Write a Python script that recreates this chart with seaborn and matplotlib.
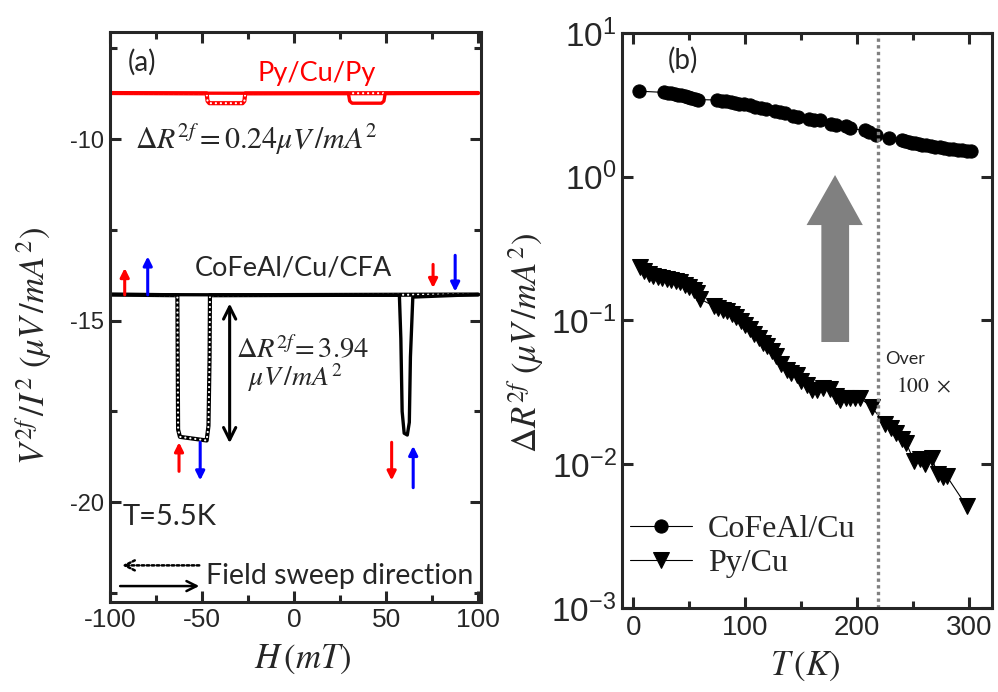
import numpy as np
import pandas as pd
import matplotlib
matplotlib.use("Agg")
import matplotlib.pyplot as plt
from matplotlib.patches import Polygon
from matplotlib.ticker import MultipleLocator, FixedLocator, NullLocator, FixedFormatter
import seaborn as sns

sns.set_style("ticks")
plt.rcParams['font.family'] = ['Liberation Sans', 'DejaVu Sans']
plt.rcParams['axes.unicode_minus'] = False
plt.rcParams['mathtext.fontset'] = 'stix'
plt.rcParams['mathtext.rm'] = 'Liberation Sans'
plt.rcParams['mathtext.it'] = 'Liberation Sans:italic'
plt.rcParams['mathtext.bf'] = 'Liberation Sans:bold'
plt.rcParams['mathtext.sf'] = 'Liberation Sans'

# ---------------- data: panel (a) ----------------
# Py/Cu/Py, sweep -100 -> 100 (solid) and 100 -> -100 (dotted)
py_fwd_H = [-100, 29.5, 30.2, 31.5, 47.5, 48.8, 49.5, 100]
py_fwd_V = [-8.73, -8.74, -8.95, -9.01, -9.01, -8.95, -8.74, -8.73]
py_bwd_H = [100, -26.5, -27.0, -28.0, -46.0, -47.0, -47.5, -100]
py_bwd_V = [-8.73, -8.74, -8.95, -9.01, -9.01, -8.95, -8.74, -8.73]
# CoFeAl/Cu/CFA
cfa_fwd_H = [-100, 57.2, 58.0, 58.7, 59.8, 61.5, 62.6, 63.2, 64.5, 100]
cfa_fwd_V = [-14.28, -14.3, -15.5, -17.5, -18.1, -18.15, -17.8, -16.0, -14.35, -14.28]
cfa_bwd_H = [100, -45.7, -45.9, -46.5, -47.5, -62.0, -63.0, -63.4, -100]
cfa_bwd_V = [-14.28, -14.3, -16.0, -17.9, -18.3, -18.2, -18.0, -14.3, -14.28]

# ---------------- data: panel (b) ----------------
cofeal_T = [5, 28, 31, 34, 37, 40, 43, 46, 49, 52, 55, 58,
            75, 79, 83, 87, 91, 95, 99, 104, 109, 114, 119,
            127, 131, 136, 143, 147, 157, 162, 167, 177, 181, 190, 194,
            207, 211, 217, 229,
            240, 243, 246, 249, 252, 255, 258, 262, 266, 270, 274, 278,
            282, 286, 290, 294, 298, 302]
cofeal_R = [3.94, 3.86, 3.83, 3.80, 3.76, 3.72, 3.68, 3.63, 3.58, 3.53, 3.48, 3.44,
            3.42, 3.38, 3.34, 3.30, 3.27, 3.23, 3.19, 3.14, 3.08, 3.02, 2.96,
            2.86, 2.81, 2.76, 2.64, 2.60, 2.52, 2.50, 2.50, 2.33, 2.29, 2.24, 2.17,
            2.10, 2.06, 1.95, 1.85,
            1.79, 1.77, 1.75, 1.73, 1.71, 1.69, 1.67, 1.65, 1.63, 1.62, 1.60, 1.58,
            1.57, 1.56, 1.54, 1.53, 1.52, 1.50]
py_T = [6, 10, 14, 18, 22, 26, 30, 34, 38, 42, 46, 50, 54, 57, 60,
        72, 76, 80, 84, 88, 92, 96, 100, 104, 108, 112, 116, 120, 124, 128,
        132, 137, 141, 146, 150, 155, 160, 164, 170, 176, 181, 185, 190, 194,
        198, 203, 213, 225, 230, 235, 240, 244, 251, 256, 261, 267, 272, 277,
        280, 298]
py_R = [0.234, 0.222, 0.210, 0.205, 0.202, 0.198, 0.194, 0.192, 0.189, 0.184,
        0.178, 0.170, 0.162, 0.155, 0.141,
        0.126, 0.122, 0.119, 0.116, 0.111, 0.106, 0.099, 0.093, 0.087, 0.081,
        0.076, 0.070, 0.066, 0.061, 0.057,
        0.050, 0.045, 0.043, 0.0415, 0.038, 0.0355, 0.033, 0.0327, 0.034, 0.0336,
        0.030, 0.0279, 0.029, 0.0288, 0.0290, 0.0288, 0.025, 0.0192, 0.0178,
        0.0164, 0.015, 0.014, 0.0105, 0.0108, 0.0100, 0.011, 0.0085, 0.0082,
        0.0083, 0.0051]
ytick_a_vals = [-10, -15, -20]
xtick_a_vals = [-100, -50, 0, 50, 100]
ytick_b_vals = [1e-3, 1e-2, 1e-1, 1e0, 1e1]
ytick_b_labels = [r'$10^{-3}$', r'$10^{-2}$', r'$10^{-1}$', r'$10^{0}$', r'$10^{1}$']

fig = plt.figure(figsize=(9.98, 6.92), dpi=100)
axa = fig.add_axes([0.1102, 0.130, 0.3717, 0.8237])
axb = fig.add_axes([0.6232, 0.1214, 0.3707, 0.8309])

SP = 2.2
for ax in (axa, axb):
    for s in ax.spines.values():
        s.set_linewidth(SP)
        s.set_visible(True)
    ax.tick_params(which='both', direction='in', top=True, right=True,
                   width=SP, pad=4)
    ax.tick_params(which='major', length=8)
    ax.tick_params(which='minor', length=5)
axa.tick_params(axis='y', labelsize=17)
axa.tick_params(axis='x', labelsize=19)
axb.tick_params(axis='x', labelsize=20, pad=5)

# ---------------- panel (a) ----------------
def dotted(ax, H, V, col):
    sns.lineplot(x=H, y=V, sort=False, estimator=None, ax=ax, color=col, lw=3.0)
    ax.plot(H, V, color='white', lw=1.6, linestyle=(0, (0.05, 2.2)),
            dash_capstyle='round')

dotted(axa, py_bwd_H, py_bwd_V, 'red')
sns.lineplot(x=py_fwd_H, y=py_fwd_V, sort=False, estimator=None, ax=axa, color='red', lw=2.4)
dotted(axa, cfa_bwd_H, cfa_bwd_V, 'black')
sns.lineplot(x=cfa_fwd_H, y=cfa_fwd_V, sort=False, estimator=None, ax=axa, color='black', lw=2.4)

axa.set_xlim(-100, 101.5)
axa.set_ylim(-22.75, -7.05)
axa.xaxis.set_major_locator(FixedLocator(xtick_a_vals))
axa.xaxis.set_minor_locator(MultipleLocator(25))
axa.yaxis.set_major_locator(FixedLocator(ytick_a_vals))
axa.yaxis.set_minor_locator(FixedLocator([-7.5, -12.5, -17.5, -22.5]))
axa.set_xlabel(r'$H\,(mT)$', fontsize=25)
axa.set_ylabel(r'$V^{2f}\,/I^{2}\ (\mu V\,/mA^{2})$', fontsize=25)
axa.xaxis.set_label_coords(0.52, -0.072)
axa.yaxis.set_label_coords(-0.152, 0.45)

sans = ['Lato', 'DejaVu Sans']
axa.text(-90.5, -7.88, '(a)', fontsize=20, family=sans, va='center', ha='left')
axa.text(12.5, -8.18, 'Py/Cu/Py', fontsize=19.5, family=sans, color='red', va='center', ha='center')
axa.text(-86.5, -10.03, r'$\Delta R^{2f} = 0.24\mu V\,/mA^{2}$', fontsize=21.5, va='center', ha='left')
axa.text(-0.5, -13.55, 'CoFeAl/Cu/CFA', fontsize=19.5, family=sans, va='center', ha='center')
axa.text(-31.5, -15.8, r'$\Delta R^{2f}\!= 3.94$', fontsize=20.5, va='center', ha='left')
axa.text(0.5, -16.56, r'$\mu V\,/mA^{2}$', fontsize=20, va='center', ha='center')
axa.text(-93, -20.41, 'T=5.5K', fontsize=21, family=sans, va='center', ha='left')
axa.text(-48, -22.02, 'Field sweep direction', fontsize=20.5, family=sans, va='center', ha='left')

# double arrow
axa.annotate('', xy=(-35, -18.45), xytext=(-35, -14.45),
             arrowprops=dict(arrowstyle='<->', lw=2.2, color='black', mutation_scale=22))
# field sweep arrows
axa.annotate('', xy=(-95, -21.74), xytext=(-50, -21.74),
             arrowprops=dict(arrowstyle='->', lw=1.8, ls=(0, (1, 1)), color='black', mutation_scale=18))
axa.annotate('', xy=(-50, -22.31), xytext=(-96, -22.31),
             arrowprops=dict(arrowstyle='->', lw=1.8, color='black', mutation_scale=18))

# magnetization arrows (H, y_from, y_to, colour)
mag_arrows = [(-92, -14.29, -13.55, 'red'), (-79.5, -14.29, -13.23, 'blue'),
              (75.5, -13.45, -14.1, 'red'), (87.5, -13.2, -14.2, 'blue'),
              (-62.5, -19.15, -18.35, 'red'), (-51, -18.35, -19.4, 'blue'),
              (53, -18.35, -19.4, 'red'), (64.7, -19.6, -18.45, 'blue')]
for h, y0, y1, c in mag_arrows:
    axa.annotate('', xy=(h, y1), xytext=(h, y0),
                 arrowprops=dict(arrowstyle='-|>', lw=2.2, color=c, mutation_scale=13,
                                 shrinkA=0, shrinkB=0))

# ---------------- panel (b) ----------------
sns.lineplot(x=cofeal_T, y=cofeal_R, ax=axb, color='black', lw=0.8, marker='o',
             markersize=9.5, markeredgecolor='black', label='CoFeAl/Cu', estimator=None, sort=False)
sns.lineplot(x=py_T, y=py_R, ax=axb, color='black', lw=0.8, marker='v',
             markersize=12, markeredgecolor='black', label='Py/Cu', estimator=None, sort=False)
axb.set_yscale('log')
axb.set_ylim(1e-3, 1e1)
axb.set_xlim(-10, 320.5)
axb.xaxis.set_major_locator(MultipleLocator(100))
axb.xaxis.set_minor_locator(MultipleLocator(50))
axb.yaxis.set_major_locator(FixedLocator(ytick_b_vals))
axb.yaxis.set_major_formatter(FixedFormatter(ytick_b_labels))
axb.yaxis.set_minor_locator(NullLocator())
for t in axb.get_yticklabels():
    t.set_math_fontfamily('custom')
    t.set_fontsize(24)
axb.set_xlabel(r'$T\,(K)$', fontsize=25)
axb.set_ylabel(r'$\Delta R^{2f}\ (\mu V\,/mA^{2})$', fontsize=25)
axb.xaxis.set_label_coords(0.495, -0.072)
axb.yaxis.set_label_coords(-0.205, 0.461)

axb.axvline(219, color='#808080', lw=2.4, ls=(0, (1, 1)))
arrow = Polygon([(0.539, 0.4626), (0.539, 0.666), (0.499, 0.666), (0.576, 0.753),
                 (0.651, 0.666), (0.614, 0.666), (0.614, 0.4626)],
                closed=True, transform=axb.transAxes, color='#808080', lw=0)
axb.add_patch(arrow)
axb.text(31, 6.45, '(b)', fontsize=20, family=sans, va='center', ha='left')
axb.text(225, 0.054, 'Over', fontsize=13, family=sans, va='center', ha='left')
axb.text(235, 0.0347, r'$100\ \times$', fontsize=15.5, va='center', ha='left')

leg = axb.legend(loc='lower left', bbox_to_anchor=(0.0216, 0.052), frameon=False,
                 prop={'family': 'Liberation Serif', 'size': 23},
                 handlelength=1.95, handletextpad=0.5, labelspacing=0.14,
                 borderaxespad=0, borderpad=0)

fig.savefig('out.png', dpi=100)
